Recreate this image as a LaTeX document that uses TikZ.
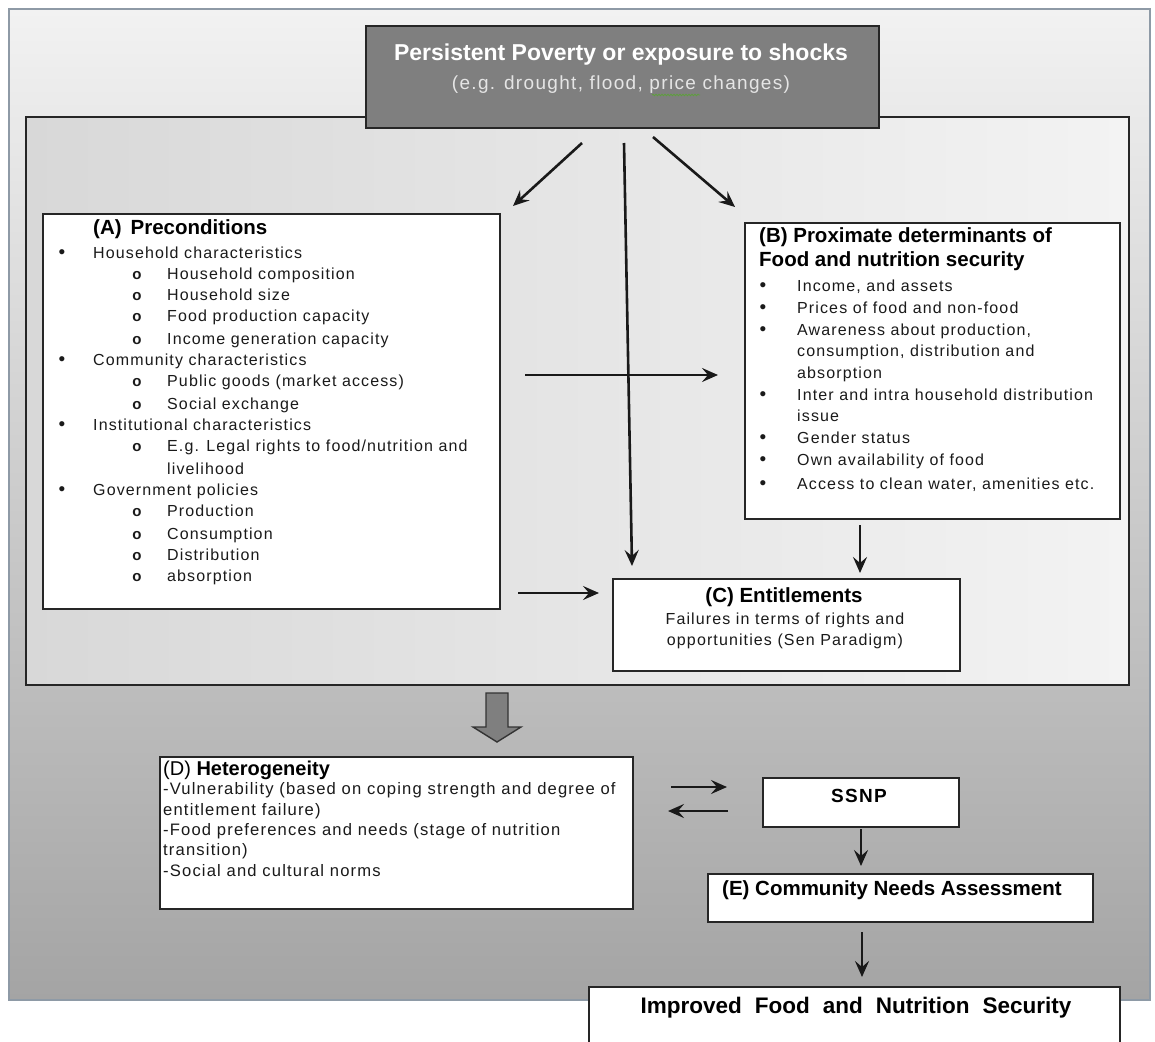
\documentclass[tikz,border=0pt]{standalone}
\usepackage{fontspec}
\setmainfont{Liberation Sans}
\newfontfamily\bodyf[LetterSpace=7]{Liberation Sans}
\usetikzlibrary{arrows.meta,decorations.pathmorphing}
\definecolor{darkbox}{HTML}{7F7F7F}
\definecolor{outtop}{HTML}{F2F2F2}
\definecolor{outbot}{HTML}{A4A4A4}
\definecolor{inleft}{HTML}{D8D8D8}
\definecolor{inright}{HTML}{F3F3F3}
\definecolor{outborder}{HTML}{8E9AA6}
\definecolor{bodytext}{HTML}{1A1A1A}
\definecolor{spellgreen}{HTML}{5E9E3E}
\begin{document}
\begin{tikzpicture}[x=1pt,y=-1pt,
  box/.style={draw=black!85, line width=1.8pt, fill=white, inner sep=0pt},
  arr/.style={-{Stealth[length=16pt,width=14pt,inset=6pt]}, line width=2.6pt, draw=black!90},
  txt/.style={inner sep=0pt, text=bodytext, font={\bodyf\fontsize{16}{19}\selectfont}},
  ttl/.style={inner sep=0pt, text=black, font={\fontsize{20.5}{24}\selectfont\bfseries}},
  bul/.style={inner sep=0pt, text=bodytext, font={\fontsize{19}{22}\selectfont}},
  subbul/.style={inner sep=0pt, text=bodytext, font={\fontsize{15}{17}\selectfont\bfseries}},
]
\clip (0,0) rectangle (1155,1041);
\fill[white] (0,0) rectangle (1155,1041);
% outer background
\shade[top color=outtop, bottom color=outbot] (9,9) rectangle (1150,1000);
\draw[draw=outborder, line width=1.4pt] (9,9) rectangle (1150,1000);
% inner panel
\shade[left color=inleft, right color=inright] (26,117) rectangle (1129,685);
\draw[draw=black!85, line width=1.8pt] (26,117) rectangle (1129,685);

% top box
\node[draw=black!85, line width=1.8pt, fill=darkbox, minimum width=513pt, minimum height=102pt, inner sep=0pt] (P) at (622.5,77) {};
\node[inner sep=0pt, text=white, font={\fontsize{23}{27}\selectfont\bfseries}] (p1) at (621,55) {Persistent Poverty or exposure to shocks};
\node[inner sep=0pt, text=white!90!black, font={\bodyf\fontsize{19}{22}\selectfont}] (p2) at (621,85) {(e.g. drought, flood, price changes)};
\coordinate (sq1) at (652,95); \coordinate (sq2) at (700,95);
\draw[spellgreen, line width=0.8pt, decorate, decoration={snake, amplitude=0.8pt, segment length=3pt}] (sq1) -- (sq2);

% box A
\node[box, minimum width=457pt, minimum height=395pt] (A) at (271.5,411.5) {};
\node[ttl, anchor=mid west] (at) at (93,232) {(A)\hskip 9pt Preconditions};
\foreach \y/\t [count=\i] in {256/{Household characteristics}, 363/{Community characteristics}, 428/{Institutional characteristics}, 493/{Government policies}} {
  \node[bul, anchor=mid] (ab\i) at (62,\y) {\textbullet};
  \node[txt, anchor=mid west] (al\i) at (93,\y) {\t};
}
\foreach \y/\t [count=\i] in {277/{Household composition}, 298/{Household size}, 319/{Food production capacity}, 342/{Income generation capacity}, 384/{Public goods (market access)}, 407/{Social exchange}, 449/{E.g. Legal rights to food/nutrition and}, 514/{Production}, 537/{Consumption}, 558/{Distribution}, 579/{absorption}} {
  \node[subbul, anchor=mid] (ao\i) at (137,\y) {o};
  \node[txt, anchor=mid west] (as\i) at (167,\y) {\t};
}
\node[txt, anchor=mid west] (alv) at (167,472) {livelihood};

% box B
\node[box, minimum width=375pt, minimum height=296pt] (B) at (932.5,371) {};
\node[ttl, anchor=mid west] (bt1) at (759,240) {(B) Proximate determinants of};
\node[ttl, anchor=mid west] (bt2) at (759,264) {Food and nutrition security};
\foreach \y/\t [count=\i] in {289/{Income, and assets}, 311/{Prices of food and non-food}, 333/{Awareness about production,}, 398/{Inter and intra household distribution}, 441/{Gender status}, 463/{Own availability of food}, 487/{Access to clean water, amenities etc.}} {
  \node[bul, anchor=mid] (bb\i) at (763,\y) {\textbullet};
  \node[txt, anchor=mid west] (bl\i) at (797,\y) {\t};
}
\node[txt, anchor=mid west] (bc1) at (797,354) {consumption, distribution and};
\node[txt, anchor=mid west] (bc2) at (797,376) {absorption};
\node[txt, anchor=mid west] (bc3) at (797,419) {issue};

% box C
\node[box, minimum width=347pt, minimum height=92pt] (C) at (786.5,625) {};
\node[ttl, anchor=mid] (ct) at (784,600) {(C) Entitlements};
\node[txt, anchor=mid] (c1) at (785,622) {Failures in terms of rights and};
\node[txt, anchor=mid] (c2) at (785,643) {opportunities (Sen Paradigm)};

% arrows in the inner panel
\coordinate (t1s) at (582,143); \coordinate (t1e) at (513,206);
\coordinate (t2s) at (624,143); \coordinate (t2e) at (632,566);
\coordinate (t3s) at (653,137); \coordinate (t3e) at (735,207);
\coordinate (abs) at (525,375); \coordinate (abe) at (718,375);
\coordinate (acs) at (518,593); \coordinate (ace) at (599,593);
\coordinate (bcs) at (860,525); \coordinate (bce) at (860,573);
\draw[arr] (t1s) -- (t1e);
\draw[arr] (t2s) -- (t2e);
\draw[arr] (t3s) -- (t3e);
\draw[arr] (abs) -- (abe);
\draw[arr] (acs) -- (ace);
\draw[arr] (bcs) -- (bce);

% block arrow
\draw[fill=darkbox, draw=black!80, line width=1.4pt, line join=miter]
  (486,693) -- (508,693) -- (508,727) -- (521,727) -- (497,742) -- (473,727) -- (486,727) -- cycle;

% box D
\node[box, minimum width=473pt, minimum height=152pt] (D) at (396.5,833) {};
\node[inner sep=0pt, anchor=mid west, font={\fontsize{20}{24}\selectfont}] (dt) at (163,773) {(D) \textbf{Heterogeneity}};
\foreach \y/\t [count=\i] in {792/{-Vulnerability (based on coping strength and degree of}, 813/{entitlement failure)}, 833/{-Food preferences and needs (stage of nutrition}, 853/{transition)}, 874/{-Social and cultural norms}} {
  \node[txt, anchor=mid west, font={\bodyf\fontsize{16.6}{19}\selectfont}] (dl\i) at (163,\y) {\t};
}

% SSNP
\node[box, minimum width=196pt, minimum height=49pt] (S) at (861,802.5) {};
\node[inner sep=0pt, font={\bodyf\fontsize{19}{22}\selectfont\bfseries}] (st) at (859,796) {SSNP};

% E
\node[box, minimum width=385pt, minimum height=48pt] (E) at (900.5,898) {};
\node[inner sep=0pt, anchor=mid west, font={\fontsize{20.5}{24}\selectfont\bfseries}] (et) at (722,893) {(E) Community Needs Assessment};

% Improved
\node[box, minimum width=531pt, minimum height=86pt] (F) at (854.5,1030) {};
\node[inner sep=0pt, font={\fontsize{22.5}{26}\selectfont\bfseries}] (ft) at (856,1008) {Improved\hskip 13pt Food\hskip 13pt and\hskip 13pt Nutrition\hskip 13pt Security};

% lower arrows
\coordinate (dss) at (671,787); \coordinate (dse) at (727,787);
\coordinate (sds) at (728,811); \coordinate (sde) at (668,811);
\coordinate (ses) at (861,829); \coordinate (see) at (861,866);
\coordinate (efs) at (862,932); \coordinate (efe) at (862,977);
\draw[arr] (dss) -- (dse);
\draw[arr] (sds) -- (sde);
\draw[arr] (ses) -- (see);
\draw[arr] (efs) -- (efe);
\end{tikzpicture}
\end{document}
